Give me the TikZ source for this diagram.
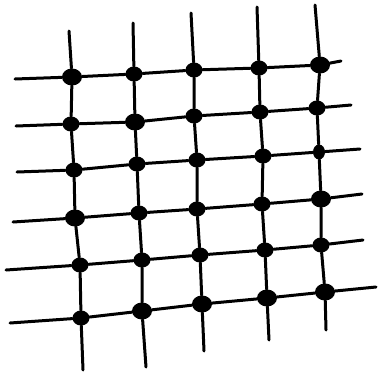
\documentclass[tikz,border=0pt]{standalone}
\usepackage{tikz}
\usetikzlibrary{shapes.geometric}

\begin{document}
\begin{tikzpicture}[
      x=1pt, y=-1pt,
      dot/.style={ellipse, fill=black, inner sep=0pt,
                  minimum width=17pt, minimum height=15pt},
      bigdot/.style={dot, minimum width=20pt, minimum height=17pt},
      wire/.style={black, line width=3pt, line cap=round}
    ]
    \useasboundingbox (0,0) rectangle (379,375);

    % line ends
    \coordinate (t1) at (69,31);   \coordinate (b1) at (83,370);
    \coordinate (t2) at (133,23);  \coordinate (b2) at (146,367);
    \coordinate (t3) at (191,13);  \coordinate (b3) at (204,351);
    \coordinate (t4) at (257,7);   \coordinate (b4) at (269,340);
    \coordinate (t5) at (315,5);   \coordinate (b5) at (326,330);
    \coordinate (l1) at (15,79);   \coordinate (r1) at (341,61);
    \coordinate (l2) at (16,126);  \coordinate (r2) at (351,105);
    \coordinate (l3) at (17,172);  \coordinate (r3) at (360,149);
    \coordinate (l4) at (13,222);  \coordinate (r4) at (362,194);
    \coordinate (l5) at (6,270);   \coordinate (r5) at (363,240);
    \coordinate (l6) at (10,323);  \coordinate (r6) at (376,287);

    % dots, row by row
    \node[bigdot] (d11) at (72,77)  {};
    \node[dot]    (d12) at (134,74) {};
    \node[dot]    (d13) at (194,70) {};
    \node[dot]    (d14) at (259,68) {};
    \node[bigdot] (d15) at (320,65) {};

    \node[dot]    (d21) at (71,124) {};
    \node[bigdot] (d22) at (135,122) {};
    \node[dot]    (d23) at (194,116) {};
    \node[dot]    (d24) at (260,112) {};
    \node[dot]    (d25) at (317,108) {};

    \node[dot]    (d31) at (74,170) {};
    \node[dot]    (d32) at (137,164) {};
    \node[dot]    (d33) at (197,160) {};
    \node[dot]    (d34) at (263,156) {};
    \node[dot, minimum width=12pt] (d35) at (319,152) {};

    \node[bigdot] (d41) at (75,218) {};
    \node[dot]    (d42) at (139,213) {};
    \node[dot]    (d43) at (197,209) {};
    \node[dot]    (d44) at (262,204) {};
    \node[bigdot] (d45) at (321,199) {};

    \node[dot]    (d51) at (80,265) {};
    \node[dot]    (d52) at (142,260) {};
    \node[dot]    (d53) at (200,255) {};
    \node[dot]    (d54) at (265,250) {};
    \node[dot]    (d55) at (321,245) {};

    \node[dot]    (d61) at (81,318) {};
    \node[bigdot] (d62) at (142,311) {};
    \node[bigdot] (d63) at (202,304) {};
    \node[bigdot] (d64) at (267,298) {};
    \node[bigdot] (d65) at (325,292) {};

    % vertical lines
    \draw[wire] (t1) -- (d11) -- (d21) -- (d31) -- (d41) -- (d51) -- (d61) -- (b1);
    \draw[wire] (t2) -- (d12) -- (d22) -- (d32) -- (d42) -- (d52) -- (d62) -- (b2);
    \draw[wire] (t3) -- (d13) -- (d23) -- (d33) -- (d43) -- (d53) -- (d63) -- (b3);
    \draw[wire] (t4) -- (d14) -- (d24) -- (d34) -- (d44) -- (d54) -- (d64) -- (b4);
    \draw[wire] (t5) -- (d15) -- (d25) -- (d35) -- (d45) -- (d55) -- (d65) -- (b5);

    % horizontal lines
    \draw[wire] (l1) -- (d11) -- (d12) -- (d13) -- (d14) -- (d15) -- (r1);
    \draw[wire] (l2) -- (d21) -- (d22) -- (d23) -- (d24) -- (d25) -- (r2);
    \draw[wire] (l3) -- (d31) -- (d32) -- (d33) -- (d34) -- (d35) -- (r3);
    \draw[wire] (l4) -- (d41) -- (d42) -- (d43) -- (d44) -- (d45) -- (r4);
    \draw[wire] (l5) -- (d51) -- (d52) -- (d53) -- (d54) -- (d55) -- (r5);
    \draw[wire] (l6) -- (d61) -- (d62) -- (d63) -- (d64) -- (d65) -- (r6);
  \end{tikzpicture}
\end{document}
